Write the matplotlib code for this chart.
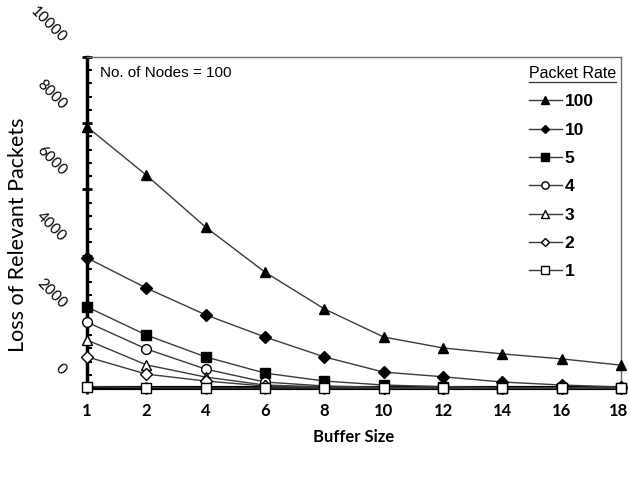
import matplotlib
matplotlib.use("Agg")
import matplotlib.pyplot as plt
import matplotlib.transforms as mtrans
from matplotlib.lines import Line2D
from matplotlib.ticker import MultipleLocator

# buffer sizes (categories) and loss values per packet rate
buffer_size = ['1', '2', '4', '6', '8', '10', '12', '14', '16', '18']
rate_labels = ['100', '10', '5', '4', '3', '2', '1']
r100 = [7890, 6430, 4860, 3500, 2390, 1540, 1210, 1030, 880, 690]
r10 = [3930, 3020, 2210, 1540, 940, 480, 340, 180, 90, 30]
r5 = [2450, 1600, 940, 450, 210, 90, 40, 10, 0, 0]
r4 = [1990, 1180, 570, 180, 60, 20, 0, 0, 0, 0]
r3 = [1450, 700, 330, 90, 30, 10, 0, 0, 0, 0]
r2 = [940, 420, 210, 60, 20, 0, 0, 0, 0, 0]
r1 = [40, 10, 0, 0, 0, 0, 0, 0, 0, 0]
y_ticks = [0, 2000, 4000, 6000, 8000, 10000]

series = [r100, r10, r5, r4, r3, r2, r1]
markers = ['^', 'D', 's', 'o', '^', 'D', 's']
faces = ['black', 'black', 'black', 'white', 'white', 'white', 'white']
msizes = [7.5, 6, 7, 7, 7.5, 6, 7]

fig = plt.figure(figsize=(6.29, 4.8), dpi=100)
ax = fig.add_axes([87/629, 1-388/480, (621-87)/629, (388-57)/480])

xpos = list(range(len(buffer_size)))
handles = []
for vals, m, fc, ms, lab in zip(series, markers, faces, msizes, rate_labels):
    ln, = ax.plot(xpos, vals, color='#3a3a3a', lw=1.0, marker=m, ms=ms,
                  mfc=fc, mec='black', mew=1.0, clip_on=False, zorder=3, label=lab)
    handles.append(ln)

ax.set_xlim(0, len(buffer_size) - 1)
ax.set_ylim(0, 10000)
ax.set_xticks(xpos)
ax.set_xticklabels(buffer_size, fontfamily='Lato', fontweight='bold', fontsize=12)
ax.set_yticks(y_ticks)
ax.yaxis.set_minor_locator(MultipleLocator(400))

for s in ['top', 'right']:
    ax.spines[s].set_color('#6a6a6a')
    ax.spines[s].set_linewidth(1.0)
ax.spines['left'].set_linewidth(2.5)
ax.spines['bottom'].set_linewidth(3)

ax.tick_params(axis='x', direction='inout', length=9, width=2, pad=6)
ax.tick_params(axis='y', which='major', direction='inout', length=7, width=2, pad=13)
ax.tick_params(axis='y', which='minor', direction='in', length=3.5, width=1.5)

# rotated y labels, sitting a bit above their ticks like the scan
shift = mtrans.ScaledTranslation(0, 0.16, fig.dpi_scale_trans)
ax.set_yticklabels([str(t) for t in y_ticks])
for lbl in ax.get_yticklabels():
    lbl.set_fontfamily('Lato')
    lbl.set_fontsize(11)
    lbl.set_rotation(-45)
    lbl.set_rotation_mode('anchor')
    lbl.set_ha('right')
    lbl.set_va('center')
    lbl.set_transform(lbl.get_transform() + shift)

# last x label hugs the right edge as in the reference
ax.get_xticklabels()[-1].set_ha('right')
ax.get_xticklabels()[-1].set_transform(ax.get_xticklabels()[-1].get_transform()
                                       + mtrans.ScaledTranslation(0.07, 0, fig.dpi_scale_trans))

ax.set_ylabel('Loss of Relevant Packets', fontfamily='Lato', fontsize=15.5, va='center')
ax.yaxis.set_label_coords(-(87-18)/534, (388-235)/331)
ax.set_xlabel('Buffer Size', fontfamily='Lato', fontweight='bold', fontsize=12, va='center')
ax.xaxis.set_label_coords(0.5, -(437-388)/331)

ax.text(100/629, 1-73/480, 'No. of Nodes = 100', transform=fig.transFigure,
        fontfamily='Liberation Sans', fontsize=11, va='center', ha='left')

leg = ax.legend(handles=handles, loc='upper left', bbox_to_anchor=(529/629, 1-66/480),
                bbox_transform=fig.transFigure, title='Packet Rate', frameon=False,
                borderpad=0, borderaxespad=0, handlelength=1.9, handletextpad=0.15,
                labelspacing=0.76, markerscale=0.75, alignment='left',
                prop={'family': ['Liberation Sans Narrow', 'Liberation Sans'],
                      'weight': 'bold', 'size': 12.5})
leg.get_title().set_fontfamily('Liberation Sans')
leg.get_title().set_fontsize(11.5)

# underline the legend title
fig.canvas.draw()
bb = leg.get_title().get_window_extent().transformed(fig.transFigure.inverted())
fig.add_artist(Line2D([bb.x0, bb.x1], [bb.y0 - 0.002, bb.y0 - 0.002],
                      transform=fig.transFigure, color='#333333', lw=0.9))

fig.savefig('out.png', dpi=100)
